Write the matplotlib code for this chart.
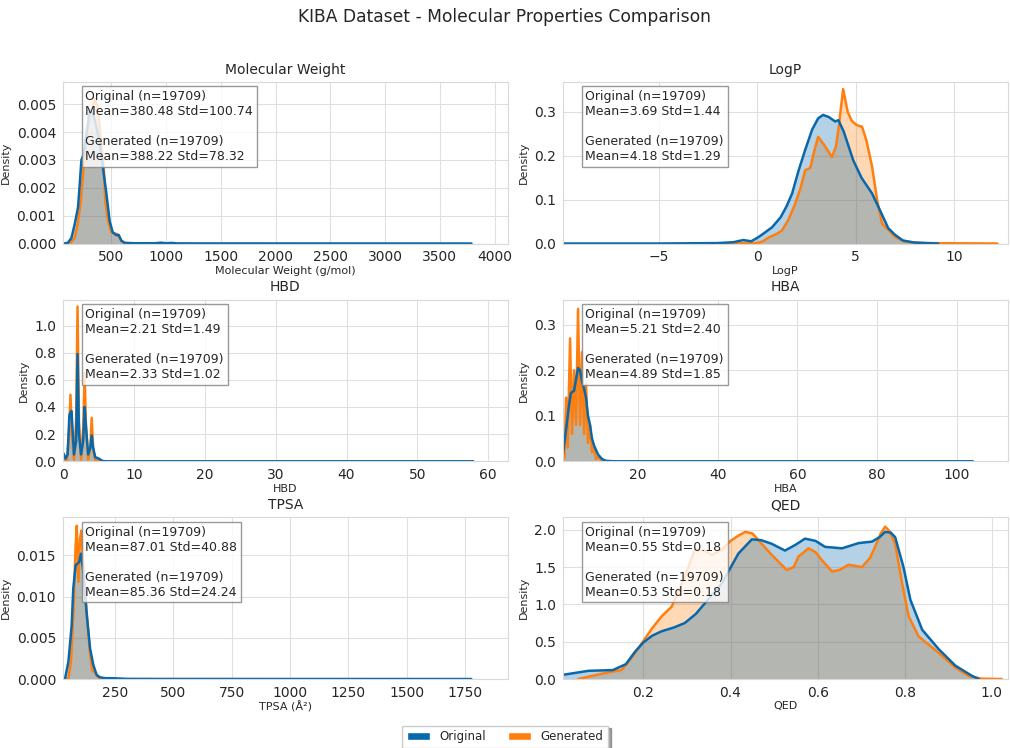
import numpy as np
import matplotlib.pyplot as plt
import seaborn as sns
from matplotlib.patches import Patch
from matplotlib.ticker import MultipleLocator

sns.set_style('whitegrid', {'grid.color': '.88', 'axes.edgecolor': '.85'})
plt.rcParams['font.family'] = ['DejaVu Sans']

ORIG_COLOR = '#0868ac'
GEN_COLOR = '#ff7f0e'
N_SAMPLES = 19709

# --- density curves (x, density) ---
# Molecular Weight
mw_orig_x = [58, 101, 135, 165, 195, 210, 226, 247, 274, 302, 329, 357, 393, 420, 454, 484, 512, 546, 567, 591, 621, 700, 900, 950, 1000, 1050, 1100, 1300, 3788]
mw_orig_y = [0, 0.00002, 0.0002, 0.0007, 0.0013, 0.0021, 0.003, 0.0032, 0.004, 0.0048, 0.0047, 0.0043, 0.0036, 0.0028, 0.0018, 0.0008, 0.0004, 0.0003, 0.0003, 0.0001, 0.00002, 0.00001, 0.00001, 0.00003, 0.00001, 0.00002, 0.000005, 0.000003, 0]
mw_gen_x = [119, 165, 192, 220, 247, 274, 311, 347, 375, 402, 430, 445, 470, 500, 530, 560, 590, 620, 800]
mw_gen_y = [0, 0.0002, 0.0007, 0.0015, 0.0028, 0.0038, 0.0047, 0.0052, 0.0049, 0.0038, 0.0027, 0.0015, 0.0008, 0.0004, 0.00036, 0.00033, 0.0001, 0.00002, 0]

# LogP
logp_orig_x = [-9.8, -5, -2, -1.2, -0.7, -0.3, 0.05, 0.4, 0.76, 1.2, 1.5, 1.78, 2.1, 2.44, 2.8, 3.1, 3.35, 3.65, 3.96, 4.13, 4.4, 4.88, 5.3, 5.84, 6.3, 6.66, 7.0, 7.4, 8.0, 9.2]
logp_orig_y = [0, 0, 0.001, 0.003, 0.008, 0.005, 0.014, 0.025, 0.037, 0.06, 0.085, 0.114, 0.165, 0.213, 0.26, 0.285, 0.293, 0.288, 0.278, 0.281, 0.255, 0.19, 0.15, 0.114, 0.07, 0.035, 0.02, 0.007, 0.002, 0]
logp_gen_x = [-2.0, 0.0, 0.3, 0.56, 1.0, 1.27, 1.6, 1.93, 2.2, 2.44, 2.7, 2.9, 3.1, 3.4, 3.8, 4.0, 4.13, 4.37, 4.6, 4.8, 5.05, 5.33, 5.55, 5.84, 6.1, 6.35, 6.7, 7.0, 7.5, 8.5, 12.2]
logp_gen_y = [0, 0.001, 0.005, 0.013, 0.022, 0.03, 0.055, 0.09, 0.125, 0.167, 0.172, 0.21, 0.243, 0.225, 0.197, 0.22, 0.26, 0.352, 0.3, 0.28, 0.27, 0.266, 0.235, 0.175, 0.098, 0.045, 0.03, 0.015, 0.004, 0.001, 0]

# HBD
hbd_orig_x = [0, 0.3, 0.6, 0.85, 1.0, 1.15, 1.5, 1.8, 2.0, 2.2, 2.5, 2.8, 3.0, 3.2, 3.5, 3.8, 4.0, 4.2, 4.5, 5.0, 5.5, 6, 10, 57.9]
hbd_orig_y = [0.06, 0.02, 0.05, 0.34, 0.36, 0.37, 0.05, 0.15, 0.79, 0.2, 0.05, 0.15, 0.40, 0.25, 0.05, 0.1, 0.19, 0.1, 0.03, 0.02, 0.003, 0, 0, 0]
hbd_gen_x = [0, 0.2, 0.5, 0.8, 1.0, 1.2, 1.5, 1.8, 2.0, 2.2, 2.5, 2.8, 3.0, 3.2, 3.5, 3.8, 4.0, 4.2, 4.5, 5.0, 5.5, 7]
hbd_gen_y = [0.03, 0.01, 0.01, 0.2, 0.49, 0.2, 0.01, 0.3, 1.14, 0.3, 0.01, 0.25, 0.65, 0.25, 0.01, 0.1, 0.32, 0.1, 0.005, 0.01, 0, 0]

# HBA
hba_orig_x = [1.2, 2, 2.7, 3.2, 4, 4.5, 5, 5.5, 6, 6.5, 7, 7.5, 8, 8.5, 9, 10, 11, 12, 14, 104]
hba_orig_y = [0.015, 0.07, 0.12, 0.15, 0.155, 0.18, 0.205, 0.2, 0.175, 0.16, 0.14, 0.1, 0.08, 0.05, 0.035, 0.015, 0.005, 0.001, 0, 0]
hba_gen_x = [1.2, 1.6, 2, 2.4, 3, 3.5, 4, 4.5, 5, 5.5, 6, 6.5, 7, 7.5, 8, 8.5, 9, 9.5, 10, 11, 12]
hba_gen_y = [0.0, 0.01, 0.14, 0.03, 0.27, 0.06, 0.2, 0.08, 0.335, 0.08, 0.24, 0.06, 0.17, 0.04, 0.08, 0.02, 0.03, 0.005, 0.01, 0, 0]

# TPSA
tpsa_orig_x = [27, 36, 50, 64, 71, 81, 96, 104, 114, 129, 143, 157, 171, 186, 210, 240, 300, 450, 1777]
tpsa_orig_y = [0, 0.0001, 0.0021, 0.0065, 0.011, 0.0138, 0.0142, 0.0152, 0.013, 0.0077, 0.0037, 0.0017, 0.0005, 0.0002, 0.0001, 0.0001, 0.00002, 0.00001, 0]
tpsa_gen_x = [40, 50, 61, 71, 81, 86, 93, 100, 106, 118, 133, 143, 153, 164, 178, 200]
tpsa_gen_y = [0, 0.0001, 0.0021, 0.0077, 0.0162, 0.0186, 0.0118, 0.0171, 0.0180, 0.0118, 0.0065, 0.003, 0.001, 0.0008, 0.0002, 0]

# QED
qed_orig_x = [0.016, 0.074, 0.13, 0.16, 0.18, 0.2, 0.22, 0.242, 0.27, 0.295, 0.32, 0.342, 0.38, 0.418, 0.449, 0.47, 0.495, 0.525, 0.55, 0.571, 0.595, 0.617, 0.656, 0.694, 0.725, 0.742, 0.755, 0.768, 0.778, 0.797, 0.813, 0.84, 0.878, 0.916, 0.955, 0.97]
qed_orig_y = [0.057, 0.11, 0.12, 0.2, 0.36, 0.49, 0.58, 0.64, 0.69, 0.75, 0.87, 1.02, 1.28, 1.68, 1.87, 1.86, 1.81, 1.72, 1.8, 1.88, 1.85, 1.77, 1.75, 1.82, 1.84, 1.9, 1.97, 1.96, 1.90, 1.50, 1.06, 0.66, 0.40, 0.18, 0.04, 0.0]
qed_gen_x = [0.05, 0.112, 0.15, 0.175, 0.2, 0.22, 0.242, 0.265, 0.295, 0.318, 0.34, 0.357, 0.38, 0.4, 0.418, 0.434, 0.45, 0.464, 0.495, 0.529, 0.545, 0.556, 0.579, 0.595, 0.61, 0.633, 0.65, 0.671, 0.702, 0.72, 0.732, 0.745, 0.755, 0.765, 0.778, 0.794, 0.809, 0.832, 0.878, 0.916, 0.947, 0.977, 1.023]
qed_gen_y = [0.0, 0.08, 0.12, 0.3, 0.51, 0.68, 0.84, 0.97, 1.37, 1.73, 1.72, 1.66, 1.73, 1.85, 1.92, 1.97, 1.95, 1.86, 1.66, 1.46, 1.5, 1.64, 1.75, 1.7, 1.59, 1.44, 1.46, 1.53, 1.50, 1.62, 1.77, 1.95, 2.04, 1.98, 1.81, 1.28, 0.84, 0.57, 0.35, 0.155, 0.04, 0.005, 0.0]

titles = ['Molecular Weight', 'LogP', 'HBD', 'HBA', 'TPSA', 'QED']
xlabels = ['Molecular Weight (g/mol)', 'LogP', 'HBD', 'HBA', 'TPSA (Å²)', 'QED']
orig_mean = [380.48, 3.69, 2.21, 5.21, 87.01, 0.55]
orig_std = [100.74, 1.44, 1.49, 2.40, 40.88, 0.18]
gen_mean = [388.22, 4.18, 2.33, 4.89, 85.36, 0.53]
gen_std = [78.32, 1.29, 1.02, 1.85, 24.24, 0.18]

orig_curves = [(mw_orig_x, mw_orig_y), (logp_orig_x, logp_orig_y), (hbd_orig_x, hbd_orig_y),
               (hba_orig_x, hba_orig_y), (tpsa_orig_x, tpsa_orig_y), (qed_orig_x, qed_orig_y)]
gen_curves = [(mw_gen_x, mw_gen_y), (logp_gen_x, logp_gen_y), (hbd_gen_x, hbd_gen_y),
              (hba_gen_x, hba_gen_y), (tpsa_gen_x, tpsa_gen_y), (qed_gen_x, qed_gen_y)]

xlims = [(58, 4121), (-9.85, 12.74), (-0.05, 62.8), (1.25, 112.8), (27, 1934), (0.0156, 1.037)]
ylims = [(0, 0.0058), (0, 0.368), (0, 1.19), (0, 0.355), (0, 0.0196), (0, 2.163)]
ysteps = [0.001, 0.1, 0.2, 0.1, 0.005, 0.5]

fig, axes = plt.subplots(3, 2, figsize=(10.1, 7.48), dpi=100)
fig.subplots_adjust(left=0.0624, right=0.998, top=0.8904, bottom=0.0922, wspace=0.124, hspace=0.348)

for i, ax in enumerate(axes.flat):
    gx, gy = gen_curves[i]
    ox, oy = orig_curves[i]
    ax.fill_between(gx, gy, color=GEN_COLOR, alpha=0.3, lw=0)
    ax.plot(gx, gy, color=GEN_COLOR, lw=1.8)
    ax.fill_between(ox, oy, color=ORIG_COLOR, alpha=0.3, lw=0)
    ax.plot(ox, oy, color=ORIG_COLOR, lw=1.8)

    ax.set_xlim(*xlims[i])
    ax.set_ylim(*ylims[i])
    ax.yaxis.set_major_locator(MultipleLocator(ysteps[i]))
    ax.set_title(titles[i], fontsize=10)
    ax.set_xlabel(xlabels[i], fontsize=8, labelpad=1)
    ax.set_ylabel('Density', fontsize=8)
    ax.tick_params(labelsize=10, pad=1.5)

    txt = (f'Original (n={N_SAMPLES})\nMean={orig_mean[i]:.2f} Std={orig_std[i]:.2f}\n\n'
           f'Generated (n={N_SAMPLES})\nMean={gen_mean[i]:.2f} Std={gen_std[i]:.2f}')
    ax.text(0.05, 0.95, txt, transform=ax.transAxes, fontsize=9, va='top', ha='left',
            color='.15', bbox=dict(boxstyle='square,pad=0.3', facecolor='white', alpha=0.8, edgecolor='grey'))

handles = [Patch(facecolor=ORIG_COLOR, label='Original'), Patch(facecolor=GEN_COLOR, label='Generated')]
fig.legend(handles=handles, loc='lower center', bbox_to_anchor=(0.5, -0.008), ncol=2,
           fontsize=8.5, frameon=True, shadow=True, fancybox=False, columnspacing=1.8)

fig.suptitle('KIBA Dataset - Molecular Properties Comparison', fontsize=12.3, y=0.989, va='top')

fig.savefig('out.png', dpi=100)
